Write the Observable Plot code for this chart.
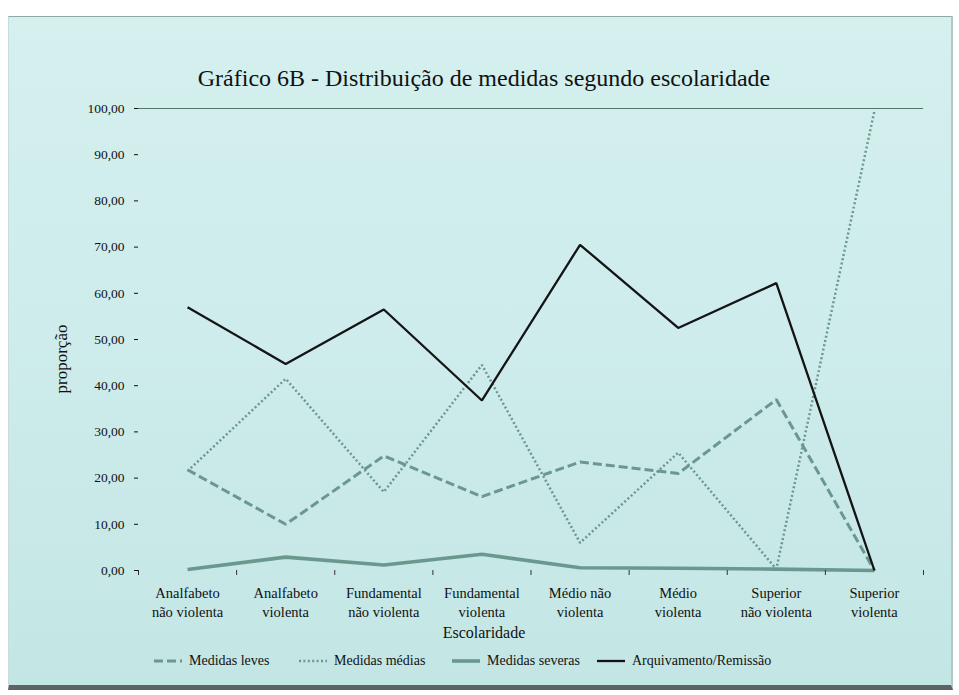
<!DOCTYPE html>
<html>
<head>
<meta charset="utf-8">
<script src="https://cdn.jsdelivr.net/npm/d3@7"></script>
<script src="https://cdn.jsdelivr.net/npm/@observablehq/plot@0.6"></script>
<style>
  html, body { margin: 0; padding: 0; background: #ffffff; width: 959px; height: 695px; overflow: hidden; }
  body { font-family: "Liberation Serif", "Times New Roman", "DejaVu Serif", serif; color: #111; position: relative; }
  #frame {
    position: absolute; left: 8px; top: 16px; width: 942px; height: 668px;
    background: linear-gradient(180deg, #d4f0ef 0%, #cdeceb 50%, #c3e6e4 100%);
    border-top: 1px solid #8fa8a6; border-left: 1px solid #c9dcdb;
    border-right: 2px solid #b3c9c7; border-bottom: 5px solid #5d6363;
  }
  #title { position: absolute; left: 0; width: 950px; top: 48px; text-align: center; font-size: 24px;
           font-family: "Liberation Serif", "Times New Roman", "DejaVu Serif", serif; }
  #chart { position: absolute; left: 0; top: 79px; }
  #ylab { position: absolute; left: 53px; top: 342px; width: 0; height: 0; }
  #ylab span { position: absolute; transform: translate(-50%, -50%) rotate(-90deg); white-space: nowrap; font-size: 17px; }
  #xlab { position: absolute; left: 0; width: 950px; top: 607px; text-align: center; font-size: 16px; }
  .leg { position: absolute; top: 636px; font-size: 14px; display: flex; align-items: center; white-space: nowrap; }
  .leg svg { margin-right: 6px; }
</style>
</head>
<body>
<div id="frame">
  <div id="title">Gráfico 6B - Distribuição de medidas segundo escolaridade</div>
  <div id="chart"></div>
  <div id="ylab"><span>proporção</span></div>
  <div id="xlab">Escolaridade</div>
  <div id="legend"></div>
</div>
<script>
// ---- data ----
const categories = [
  "Analfabeto\nnão violenta",
  "Analfabeto\nviolenta",
  "Fundamental\nnão violenta",
  "Fundamental\nviolenta",
  "Médio não\nviolenta",
  "Médio\nviolenta",
  "Superior\nnão violenta",
  "Superior\nviolenta"
];
const medidasLeves   = [21.8, 10.0, 24.8, 16.0, 23.5, 21.0, 37.0, 0.0];
const medidasMedias  = [21.5, 41.5, 17.0, 44.5, 6.0, 25.5, 0.3, 99.5];
const medidasSeveras = [0.2, 2.9, 1.2, 3.5, 0.6, 0.5, 0.3, 0.0];
const arquivamento   = [57.0, 44.7, 56.5, 36.8, 70.5, 52.5, 62.2, 0.0];
const seriesNames = ["Medidas leves", "Medidas médias", "Medidas severas", "Arquivamento/Remissão"];
const yTicks = [0, 10, 20, 30, 40, 50, 60, 70, 80, 90, 100];

// ---- styles ----
const teal = "#6b988e";
const styles = [
  {stroke: teal, strokeWidth: 3, strokeDasharray: "9,4"},
  {stroke: teal, strokeWidth: 2.5, strokeDasharray: "2,2.4"},
  {stroke: teal, strokeWidth: 3.6},
  {stroke: "#141414", strokeWidth: 2.3}
];

const idx = categories.map((c, i) => i);
const toRows = (vals) => vals.map((v, i) => ({i, v}));
const allSeries = [medidasLeves, medidasMedias, medidasSeveras, arquivamento];
const boundaries = d3.range(-0.5, categories.length, 1);
const fmt = (d) => d3.format(".2f")(d).replace(".", ",");

const drawOrder = [2, 0, 1, 3];
const chart = Plot.plot({
  width: 942,
  height: 556,
  marginLeft: 129,
  marginRight: 28,
  marginTop: 12,
  marginBottom: 82,
  style: {fontFamily: "'Liberation Serif', 'Times New Roman', serif", fontSize: "13px", background: "transparent", color: "#111"},
  x: {type: "linear", domain: [-0.5, categories.length - 0.5]},
  y: {domain: [0, 100]},
  marks: [
    Plot.ruleY([100], {stroke: "#55746f", strokeWidth: 1}),
    ...drawOrder.map(k => Plot.line(toRows(allSeries[k]), {
      x: "i", y: "v", ...styles[k], strokeLinejoin: "miter", strokeLinecap: "butt"
    })),
    Plot.axisY({ticks: yTicks, tickFormat: fmt, tickSize: 4, tickPadding: 10, label: null, fontSize: 13.5}),
    Plot.axisX({ticks: boundaries, tickFormat: () => "", tickSize: 5, label: null, stroke: "#333"}),
    Plot.axisX({ticks: idx, tickFormat: (i) => categories[i], tickSize: 0, tickPadding: 14, lineHeight: 1.33, label: null, fontSize: 14.5})
  ]
});
document.getElementById("chart").appendChild(chart);

// ---- legend ----
const legendX = [144, 289, 442, 587];
const legend = document.getElementById("legend");
seriesNames.forEach((name, k) => {
  const item = document.createElement("div");
  item.className = "leg";
  item.style.left = legendX[k] + "px";
  const s = styles[k];
  item.innerHTML = `<svg width="30" height="8"><line x1="1" x2="29" y1="4" y2="4" stroke="${s.stroke}" stroke-width="${s.strokeWidth}" ${s.strokeDasharray ? `stroke-dasharray="${s.strokeDasharray}"` : ""}/></svg><span>${name}</span>`;
  legend.appendChild(item);
});
</script>
</body>
</html>
